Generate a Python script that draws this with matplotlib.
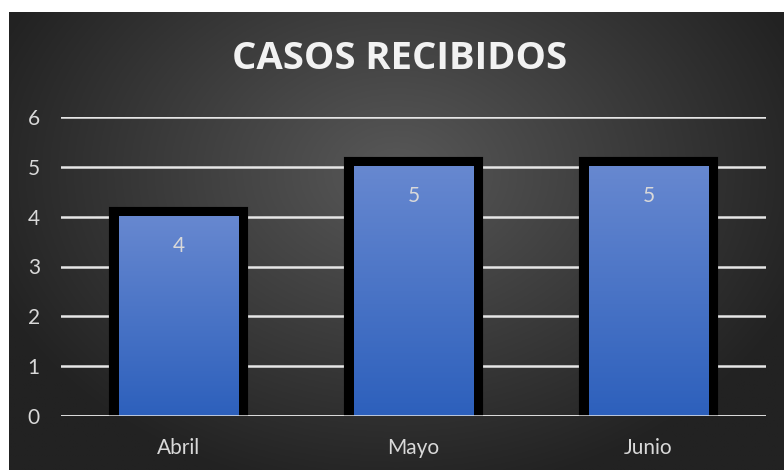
import matplotlib
matplotlib.use('Agg')
import matplotlib.pyplot as plt
import numpy as np

plt.rcParams['font.family'] = ['Lato', 'DejaVu Sans']

meses = ['Abril', 'Mayo', 'Junio']
casos = [4, 5, 5]
yticks = [0, 1, 2, 3, 4, 5, 6]
titulo = 'CASOS RECIBIDOS'

W, H = 784, 470
fig = plt.figure(figsize=(W/100, H/100), dpi=100)
fig.patch.set_facecolor('white')

# background panel with radial gradient
bg = fig.add_axes([9/W, 0, (W-9)/W, (H-12)/H])
bg.set_axis_off()
yy, xx = np.mgrid[0:1:300j, 0:1:500j]
d = np.sqrt(((xx-0.5)/0.75)**2 + ((yy-0.35)/0.95)**2)
d = np.clip(d/0.75, 0, 1)
light = np.array([0x58, 0x58, 0x58])/255
dark = np.array([0x22, 0x22, 0x22])/255
img = light[None, None, :]*(1-d[..., None]) + dark[None, None, :]*d[..., None]
bg.imshow(img, aspect='auto', extent=[0, 1, 0, 1], origin='upper')
bg.set_xlim(0, 1)
bg.set_ylim(0, 1)

ax = fig.add_axes([61/W, (H-416)/H, (766-61)/W, (416-117)/H])
ax.patch.set_alpha(0)
ax.set_xlim(-0.5, 2.5)
ax.set_ylim(0, 6)
ax.set_yticks(yticks)
for y in yticks:
    ax.axhline(y, color='#e6e6e6', lw=1.8, zorder=1)

x = np.arange(len(meses))
# black frame drawn outside the blue fill (stroke twice as wide, inner half hidden)
bars = ax.bar(x, casos, width=0.51, facecolor='black', edgecolor='black',
              linewidth=14.5, zorder=2)
grad = np.linspace(0, 1, 256)[:, None]
top = np.array([0x67, 0x88, 0xd0])/255
bot = np.array([0x2d, 0x60, 0xbc])/255
gimg = top[None, None, :]*(1-grad[..., None]) + bot[None, None, :]*grad[..., None]
for b in bars:
    x0, y0 = b.get_x(), b.get_y()
    im = ax.imshow(gimg, aspect='auto', origin='upper',
                   extent=[x0, x0+b.get_width(), y0, y0+b.get_height()], zorder=3)
ax.set_xlim(-0.5, 2.5)
ax.set_ylim(0, 6)
ax.axhline(0, color='#e6e6e6', lw=1.8, zorder=4)

for xi, v in zip(x, casos):
    ax.annotate(str(v), (xi, v), xytext=(0, -21), textcoords='offset points',
                ha='center', va='center', color='#d9d9d9', fontsize=15, zorder=5)

for s in ax.spines.values():
    s.set_visible(False)
ax.set_xticks(x)
ax.set_xticklabels(meses)
ax.tick_params(length=0, colors='#d9d9d9', labelsize=15)
ax.tick_params(axis='x', pad=16)
ax.tick_params(axis='y', pad=24)
for t in ax.get_yticklabels():
    t.set_horizontalalignment('left')

fig.text(400/W, 1-59/H, titulo, ha='center', va='center', color='#f2f2f2',
         fontsize=27.5, fontweight='bold', family=['Open Sans', 'DejaVu Sans'])

fig.savefig('out.png', dpi=100, facecolor='white')
